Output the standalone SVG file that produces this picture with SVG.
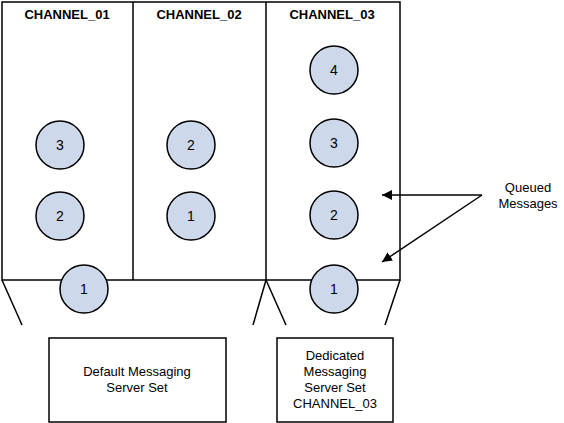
<svg xmlns="http://www.w3.org/2000/svg" width="564" height="423" viewBox="0 0 564 423">
<style>
.ln{stroke:#000;stroke-width:1.5;fill:none}
.box{fill:#fff;stroke:#000;stroke-width:1.5}
.msg{fill:#cdd9ea;stroke:#000;stroke-width:1.5}
.t{font-family:"Liberation Sans",Arial,sans-serif;font-size:13px;fill:#000;text-anchor:middle}
.h{font-weight:bold}
.n{font-size:14px}
</style>
<defs>
<marker id="ah" viewBox="0 0 10 10" refX="10" refY="5" markerWidth="10" markerHeight="10" markerUnits="userSpaceOnUse" orient="auto">
<path d="M0,0 L10,5 L0,10 z" fill="#000"/>
</marker>
</defs>
<rect width="564" height="423" fill="#fff"/>
<g id="channels">
<rect class="box" x="2" y="2" width="398" height="278"/>
<line class="ln" x1="133" y1="2" x2="133" y2="280"/>
<line class="ln" x1="266" y1="2" x2="266" y2="280"/>
<text class="t h" x="67" y="19">CHANNEL_01</text>
<text class="t h" x="199" y="19">CHANNEL_02</text>
<text class="t h" x="332" y="19">CHANNEL_03</text>
</g>
<g id="funnels">
<line class="ln" x1="2" y1="280" x2="22" y2="325"/>
<line class="ln" x1="266" y1="280" x2="253" y2="325"/>
<line class="ln" x1="266" y1="280" x2="286" y2="325"/>
<line class="ln" x1="400" y1="280" x2="385" y2="325"/>
</g>
<g id="ch01-msgs">
<circle class="msg" cx="60" cy="145" r="24"/><text class="t n" x="60" y="150">3</text>
<circle class="msg" cx="60" cy="216" r="24"/><text class="t n" x="60" y="221">2</text>
<circle class="msg" cx="84" cy="289" r="24"/><text class="t n" x="84" y="294">1</text>
</g>
<g id="ch02-msgs">
<circle class="msg" cx="191" cy="145" r="24"/><text class="t n" x="191" y="150">2</text>
<circle class="msg" cx="191" cy="216" r="24"/><text class="t n" x="191" y="221">1</text>
</g>
<g id="ch03-msgs">
<circle class="msg" cx="334" cy="70" r="24"/><text class="t n" x="334" y="75">4</text>
<circle class="msg" cx="334" cy="143" r="24"/><text class="t n" x="334" y="148">3</text>
<circle class="msg" cx="334" cy="215" r="24"/><text class="t n" x="334" y="220">2</text>
<circle class="msg" cx="334" cy="289" r="24"/><text class="t n" x="334" y="294">1</text>
</g>
<g id="default-set">
<rect class="box" x="49" y="338" width="177" height="84"/>
<text class="t" x="137" y="376">Default Messaging</text>
<text class="t" x="137" y="392">Server Set</text>
</g>
<g id="dedicated-set">
<rect class="box" x="277" y="338" width="116" height="84"/>
<text class="t" x="335" y="360">Dedicated</text>
<text class="t" x="335" y="376">Messaging</text>
<text class="t" x="335" y="392">Server Set</text>
<text class="t" x="335" y="408">CHANNEL_03</text>
</g>
<g id="queued-label">
<text class="t" x="528" y="192">Queued</text>
<text class="t" x="528" y="208">Messages</text>
</g>
<g id="connectors">
<line class="ln" x1="482" y1="195" x2="382" y2="195" marker-end="url(#ah)"/>
<line class="ln" x1="482" y1="195" x2="382" y2="262" marker-end="url(#ah)"/>
</g>
</svg>
